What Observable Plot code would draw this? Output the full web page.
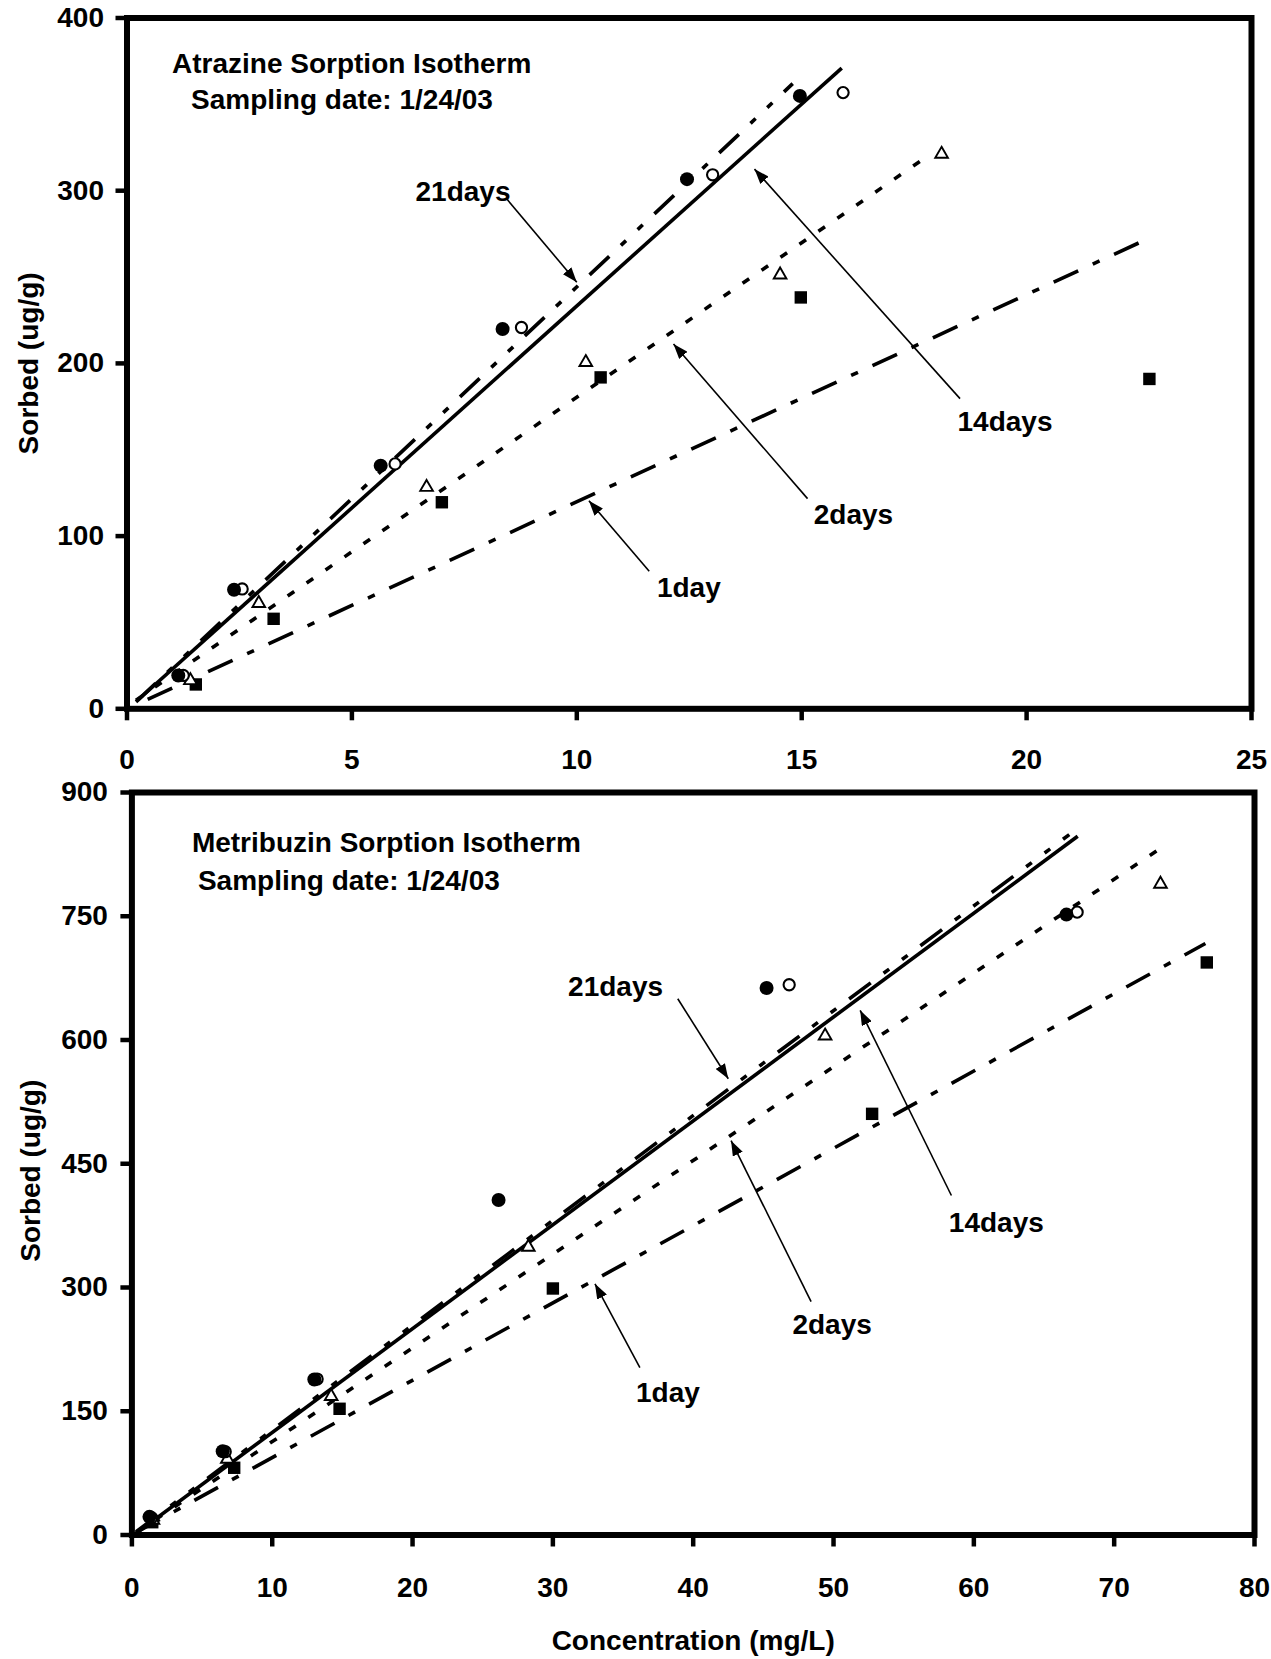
<!DOCTYPE html>
<html><head><meta charset="utf-8">
<script src="https://cdn.jsdelivr.net/npm/d3@7"></script>
<script src="https://cdn.jsdelivr.net/npm/@observablehq/plot@0.6"></script>
<style>
html,body{margin:0;padding:0;background:#fff;}
#wrap{position:relative;width:1271px;height:1659px;overflow:hidden;}
#chartTop,#chartBottom{position:absolute;left:0;}
#chartTop{top:0px;}
#chartBottom{top:780px;}
</style></head>
<body><div id="wrap"><div id="chartTop"></div><div id="chartBottom"></div></div>
<script>
// ---------- Atrazine (top) ----------
const atrXTicks = [0, 5, 10, 15, 20, 25];
const atrYTicks = [0, 100, 200, 300, 400];
const atrTitle = "Atrazine Sorption Isotherm";
const atrSubtitle = "Sampling date: 1/24/03";
// markers: filled circle, open circle, open triangle, filled square
const atrFilledCircle = [[1.14,19.3],[2.38,68.9],[5.64,140.8],[8.35,219.9],[12.45,306.7],[14.96,354.9]];
const atrOpenCircle   = [[1.25,19.3],[2.56,69.4],[5.96,141.8],[8.77,220.8],[13.02,309.2],[15.92,356.8]];
const atrTriangle     = [[1.41,16.4],[2.93,61.1],[6.66,128.3],[10.2,200.6],[14.52,251.3],[18.11,321.2]];
const atrSquare       = [[1.53,14.1],[3.26,52.1],[7.0,119.6],[10.53,191.9],[14.98,238.2],[22.73,191]];
// fitted isotherm lines (endpoints)
const atrFit21 = [[0.2,4],[14.8,362]];
const atrFit14 = [[0.23,4.8],[15.89,371]];
const atrFit2  = [[0.2,5],[17.8,320]];
const atrFit1  = [[0.46,5.4],[22.68,272]];
// annotations
const atrLabels = ["21days","14days","2days","1day"];
const atrLabelX = [7.47, 19.52, 16.15, 12.49];
const atrLabelY = [299, 166, 112, 70];
const atrArrowFrom = [[8.45,295],[18.52,179.6],[15.13,121.7],[11.61,79.6]];
const atrArrowTo   = [[10.0,247],[13.95,312.5],[12.15,211.2],[10.27,120.5]];

// ---------- Metribuzin (bottom) ----------
const metXTicks = [0, 10, 20, 30, 40, 50, 60, 70, 80];
const metYTicks = [0, 150, 300, 450, 600, 750, 900];
const metTitle = "Metribuzin Sorption Isotherm";
const metSubtitle = "Sampling date: 1/24/03";
const metFilledCircle = [[1.25,22],[6.47,101.6],[13.0,188.5],[26.13,406],[45.23,663],[66.6,752]];
const metOpenCircle   = [[1.4,21],[6.65,101],[13.2,189],[46.84,667],[67.36,755]];
const metTriangle     = [[1.5,18],[6.8,92],[14.2,168],[28.25,349],[49.4,605],[73.3,789]];
const metSquare       = [[1.45,15.5],[7.29,81.5],[14.8,153],[30.0,298.8],[52.75,510.5],[76.6,694]];
const metFit21 = [[0.3,4],[66.8,849]];
const metFit14 = [[0.3,2],[67.4,847]];
const metFit2  = [[0.3,3],[73.1,830]];
const metFit1  = [[0.3,3],[76.5,717]];
const metLabels = ["21days","14days","2days","1day"];
const metLabelX = [34.47, 61.6, 49.9, 38.2];
const metLabelY = [664, 378, 255, 171.5];
const metArrowFrom = [[38.9,650],[58.4,411.5],[48.4,283],[36.2,203]];
const metArrowTo   = [[42.5,553],[51.9,636],[42.7,478],[33.0,304.5]];

const yLabel = "Sorbed (ug/g)";
const xLabel = "Concentration (mg/L)";

const FONT = '"Liberation Sans", Arial, Helvetica, sans-serif';
const FS = 28;

function addArrowheads(svg, id) {
  const ns = "http://www.w3.org/2000/svg";
  const defs = document.createElementNS(ns, "defs");
  const marker = document.createElementNS(ns, "marker");
  marker.setAttribute("id", id);
  marker.setAttribute("viewBox", "0 0 10 10");
  marker.setAttribute("refX", "10");
  marker.setAttribute("refY", "5");
  marker.setAttribute("markerUnits", "userSpaceOnUse");
  marker.setAttribute("markerWidth", "15");
  marker.setAttribute("markerHeight", "11");
  marker.setAttribute("preserveAspectRatio", "none");
  marker.setAttribute("orient", "auto");
  const path = document.createElementNS(ns, "path");
  path.setAttribute("d", "M0,0L10,5L0,10Z");
  path.setAttribute("fill", "black");
  marker.appendChild(path);
  defs.appendChild(marker);
  svg.insertBefore(defs, svg.firstChild);
  svg.querySelectorAll('g[aria-label="link"] path').forEach(p => p.setAttribute("marker-end", `url(#${id})`));
}

function chart(o) {
  const fits = [
    {d: o.fit21, dash: "27,16,7,16,7,16"},
    {d: o.fit14, dash: null},
    {d: o.fit2, dash: "8,15"},
    {d: o.fit1, dash: "27,16,7.5,16"}
  ];
  const labelRows = o.labels.map((t, i) => ({t, x: o.labelX[i], y: o.labelY[i]}));
  const arrowRows = o.from.map((f, i) => ({x1: f[0], y1: f[1], x2: o.to[i][0], y2: o.to[i][1]}));
  const txt = {fontSize: FS, fontWeight: "bold", fill: "black"};
  return Plot.plot({
    width: 1271,
    height: o.height,
    marginLeft: o.ml, marginRight: o.mr, marginTop: o.mt, marginBottom: o.mb,
    style: {fontFamily: FONT, fontSize: FS + "px", fontWeight: "bold", background: "white", overflow: "visible", color: "black"},
    x: {domain: o.xDomain},
    y: {domain: o.yDomain},
    marks: [
      ...fits.map(f => Plot.line(f.d, {x: d => d[0], y: d => d[1], stroke: "black", strokeWidth: 3.6, strokeDasharray: f.dash || undefined, strokeLinecap: "butt"})),
      Plot.dot(o.square, {x: d => d[0], y: d => d[1], symbol: "square", r: 7, fill: "black", stroke: "none"}),
      Plot.dot(o.triangle, {x: d => d[0], y: d => d[1], symbol: "triangle", r: 4.7, fill: "white", stroke: "black", strokeWidth: 1.9}),
      Plot.dot(o.openCircle, {x: d => d[0], y: d => d[1], symbol: "circle", r: 5.6, fill: "white", stroke: "black", strokeWidth: 2.1}),
      Plot.dot(o.filledCircle, {x: d => d[0], y: d => d[1], symbol: "circle", r: 7, fill: "black", stroke: "none"}),
      Plot.link(arrowRows, {x1: "x1", y1: "y1", x2: "x2", y2: "y2", stroke: "black", strokeWidth: 1.6}),
      Plot.text(labelRows, {x: "x", y: "y", text: "t", textAnchor: "middle", lineAnchor: "middle", ...txt}),
      Plot.text([o.title], {frameAnchor: "top-left", dx: o.t1dx, dy: o.t1dy, textAnchor: "start", lineAnchor: "top", ...txt}),
      Plot.text([o.subtitle], {frameAnchor: "top-left", dx: o.t2dx, dy: o.t2dy, textAnchor: "start", lineAnchor: "top", ...txt}),
      Plot.text([yLabel], {frameAnchor: "left", dx: o.ylDx, dy: o.ylDy, rotate: -90, textAnchor: "middle", lineAnchor: "middle", ...txt}),
      ...(o.showX ? [Plot.text([xLabel], {frameAnchor: "bottom", dy: o.xlDy, textAnchor: "middle", lineAnchor: "middle", ...txt})] : []),
      Plot.axisX({ticks: o.xTicks, tickSize: 12, tickPadding: o.xPad, strokeWidth: 4.5, label: null, tickFormat: d => String(d), ...txt}),
      Plot.axisY({ticks: o.yTicks, tickSize: 11, tickPadding: o.yPad, strokeWidth: 4.5, label: null, tickFormat: d => String(d), ...txt}),
      Plot.frame({stroke: "black", strokeWidth: 6})
    ]
  });
}

const topSvg = chart({
  height: 780, ml: 126.5, mr: 20, mt: 17.5, mb: 71.7,
  xDomain: [0, 25], yDomain: [0, 400], xTicks: atrXTicks, yTicks: atrYTicks,
  filledCircle: atrFilledCircle, openCircle: atrOpenCircle, triangle: atrTriangle, square: atrSquare,
  fit21: atrFit21, fit14: atrFit14, fit2: atrFit2, fit1: atrFit1,
  labels: atrLabels, labelX: atrLabelX, labelY: atrLabelY, from: atrArrowFrom, to: atrArrowTo,
  title: atrTitle, subtitle: atrSubtitle, t1dx: 45, t1dy: 35, t2dx: 64, t2dy: 71,
  ylDx: -98, ylDy: 0, xPad: 28, yPad: 12, showX: false
});
addArrowheads(topSvg, "ahTop");
document.getElementById("chartTop").appendChild(topSvg);

const bottomSvg = chart({
  height: 879, ml: 131.4, mr: 17, mt: 12, mb: 124.5,
  xDomain: [0, 80], yDomain: [0, 900], xTicks: metXTicks, yTicks: metYTicks,
  filledCircle: metFilledCircle, openCircle: metOpenCircle, triangle: metTriangle, square: metSquare,
  fit21: metFit21, fit14: metFit14, fit2: metFit2, fit1: metFit1,
  labels: metLabels, labelX: metLabelX, labelY: metLabelY, from: metArrowFrom, to: metArrowTo,
  title: metTitle, subtitle: metSubtitle, t1dx: 60, t1dy: 40, t2dx: 66, t2dy: 78,
  ylDx: -101, ylDy: 7, xlDy: 106.5, xPad: 30, yPad: 13, showX: true
});
addArrowheads(bottomSvg, "ahBottom");
document.getElementById("chartBottom").appendChild(bottomSvg);
</script>
</body></html>
